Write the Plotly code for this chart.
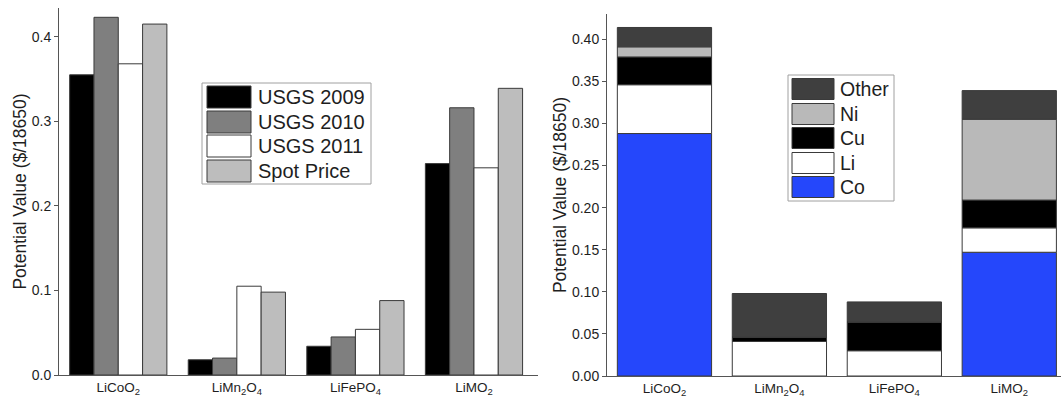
import plotly.graph_objects as go

W, H = 1061, 398

categories = ["LiCoO<sub>2</sub>", "LiMn<sub>2</sub>O<sub>4</sub>", "LiFePO<sub>4</sub>", "LiMO<sub>2</sub>"]

# Left panel: potential value by price source
left_series = ["USGS 2009", "USGS 2010", "USGS 2011", "Spot Price"]
usgs_2009 = [0.355, 0.018, 0.034, 0.250]
usgs_2010 = [0.423, 0.020, 0.045, 0.316]
usgs_2011 = [0.368, 0.105, 0.054, 0.245]
spot_price = [0.415, 0.098, 0.088, 0.339]
left_values = [usgs_2009, usgs_2010, usgs_2011, spot_price]
left_colors = ["#000000", "#7f7f7f", "#ffffff", "#bdbdbd"]

# Right panel: spot-price contribution by element (stacked, bottom to top)
right_series = ["Co", "Li", "Cu", "Ni", "Other"]
co = [0.288, 0.0, 0.0, 0.147]
li = [0.058, 0.041, 0.030, 0.029]
cu = [0.033, 0.005, 0.034, 0.033]
ni = [0.012, 0.0, 0.0, 0.096]
other = [0.023, 0.052, 0.024, 0.034]
right_values = [co, li, cu, ni, other]
right_colors = ["#2547fb", "#ffffff", "#000000", "#b9b9b9", "#3f3f3f"]

left_ticks = [0.0, 0.1, 0.2, 0.3, 0.4]
right_ticks = [0.0, 0.05, 0.10, 0.15, 0.20, 0.25, 0.30, 0.35, 0.40]

FONT = "Liberation Sans, Arial, sans-serif"
TXT = "#1e1e1e"
OUTLINE = "#3a3a3a"

fig = go.Figure()
for name, vals, col in zip(left_series, left_values, left_colors):
    fig.add_trace(go.Bar(x=categories, y=vals, name=name, marker=dict(color=col, line=dict(color=OUTLINE, width=1)),
                         offsetgroup=name, xaxis="x", yaxis="y", showlegend=False))

# Stacked panel: bases are the running totals of the element series
cum = [0.0] * len(categories)
for name, vals, col in zip(right_series, right_values, right_colors):
    fig.add_trace(go.Bar(x=categories, y=vals, base=list(cum), name=name,
                         marker=dict(color=col, line=dict(color=OUTLINE, width=1)),
                         offsetgroup="stack", xaxis="x2", yaxis="y2", showlegend=False))
    cum = [c + v for c, v in zip(cum, vals)]

def px_x(p):
    return p / W

def px_y(p):
    return 1 - p / H

axis_common = dict(showline=True, linecolor="#555555", linewidth=1, ticks="outside", ticklen=4,
                   tickcolor="#555555", showgrid=False, zeroline=False, automargin=False,
                   tickfont=dict(family=FONT, size=14, color=TXT))
xaxis_common = dict(type="category", showline=True, linecolor="#555555", ticks="", showgrid=False,
                    automargin=False, tickfont=dict(family=FONT, size=13.5, color=TXT))

fig.update_layout(
    width=W, height=H, margin=dict(l=0, r=0, t=0, b=0, autoexpand=False),
    paper_bgcolor="white", plot_bgcolor="white",
    barmode="group", bargap=0.18, bargroupgap=0.0,
    xaxis=dict(domain=[px_x(59), px_x(538)], range=[-0.5, 3.54], **xaxis_common),
    yaxis=dict(domain=[px_y(375), px_y(8)], range=[0, 0.434], tickvals=left_ticks, tickformat=".1f",
               title=dict(text="Potential Value ($/18650)", font=dict(family=FONT, size=17.5, color=TXT), standoff=0),
               **axis_common),
    xaxis2=dict(domain=[px_x(607), 1.0], range=[-0.5, 3.45], anchor="y2", **xaxis_common),
    yaxis2=dict(domain=[px_y(376), px_y(14)], range=[0, 0.43], tickvals=right_ticks, tickformat=".2f", anchor="x2",
                title=dict(text="Potential Value ($/18650)", font=dict(family=FONT, size=17.5, color=TXT), standoff=0),
                **axis_common),
)

shapes = []
annotations = []

def add_legend(names, colors, box, sw_x, row_centers, sw_h, text_x, fsize):
    x0, y0, x1, y1 = box
    shapes.append(dict(type="rect", xref="paper", yref="paper", x0=px_x(x0), x1=px_x(x1), y0=px_y(y1), y1=px_y(y0),
                       line=dict(color="#a0a0a0", width=1), fillcolor="white", layer="above"))
    for n, c, yc in zip(names, colors, row_centers):
        shapes.append(dict(type="rect", xref="paper", yref="paper", x0=px_x(sw_x[0]), x1=px_x(sw_x[1]),
                           y0=px_y(yc + sw_h / 2), y1=px_y(yc - sw_h / 2),
                           line=dict(color=OUTLINE, width=1), fillcolor=c, layer="above"))
        annotations.append(dict(xref="paper", yref="paper", x=px_x(text_x), y=px_y(yc), text=n, showarrow=False,
                                xanchor="left", yanchor="middle", font=dict(family=FONT, size=fsize, color=TXT)))

add_legend(left_series, left_colors, (202, 83, 371, 184), (207, 251), [97, 122, 146, 171], 22, 256, 20)
add_legend(right_series[::-1], right_colors[::-1], (788, 75, 894, 201), (792, 834), [89, 114, 138, 163, 187], 21, 838, 19.5)

fig.update_layout(shapes=shapes, annotations=annotations)
fig.write_html("out.html")
